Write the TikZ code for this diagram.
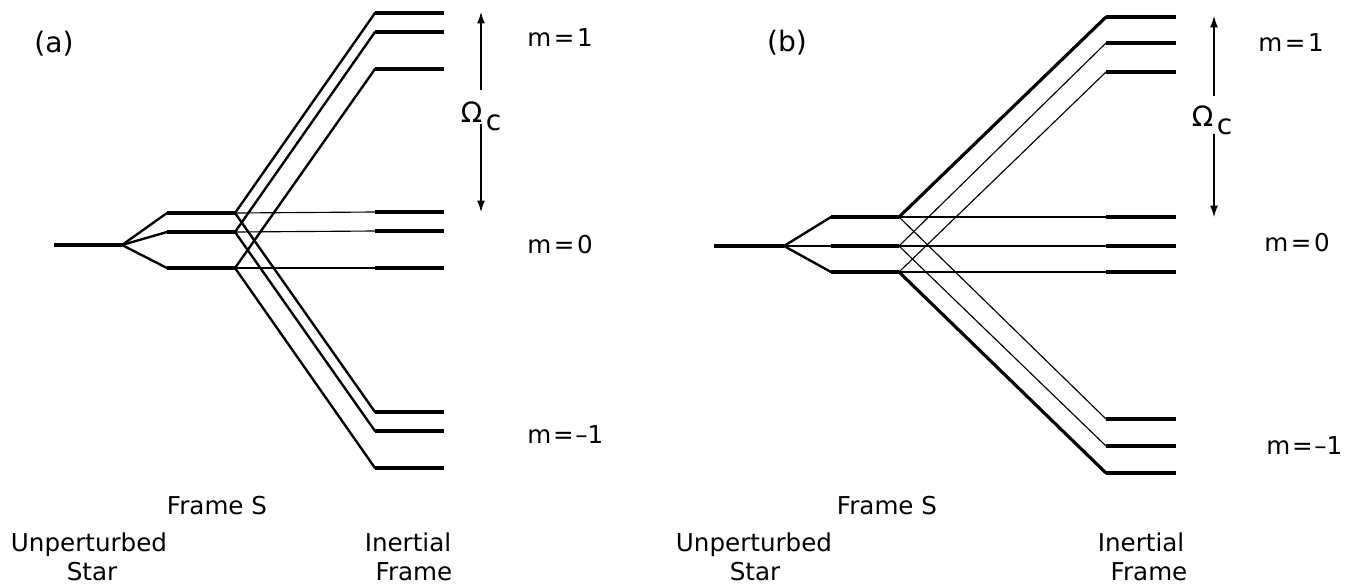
\documentclass[tikz,border=0pt]{standalone}
\usepackage{fontspec}
\setmainfont{DejaVu Sans}
\usetikzlibrary{arrows.meta}

\tikzset{
  lvl/.style={line width=2.3pt},
  diag/.style={line width=1.35pt, line cap=round},
  fat/.style={line width=1.8pt, line cap=round},
  mid/.style={line width=1.2pt},
  thin/.style={line width=0.65pt},
  lbl/.style={font=\fontsize{14}{16}\selectfont, inner sep=0pt},
  tag/.style={font=\fontsize{16}{18}\selectfont, inner sep=0pt},
  omg/.style={font=\fontsize{16}{18}\selectfont, inner sep=0pt, anchor=base},
  gap/.style={line width=0.65pt, -{Latex[length=6.5pt,width=4.5pt]}},
}

\begin{document}
\begin{tikzpicture}[x=0.02cm,y=-0.02cm]
\useasboundingbox (0,0) rectangle (1345,585);

% ---- panel (a)
\node[tag] (taga) at (54,44) {(a)};

\coordinate (ua1) at (54,245);
\coordinate (ua2) at (122,245);
\coordinate (fa1l) at (167,213);
\coordinate (fa1r) at (235,213);
\coordinate (fa2l) at (167,232);
\coordinate (fa2r) at (235,232);
\coordinate (fa3l) at (167,268);
\coordinate (fa3r) at (235,268);

\foreach \n/\y in {1/13,2/32,3/69,4/212,5/231,6/268,7/412,8/431,9/468}{
  \coordinate (ia\n) at (375,\y);
  \coordinate (ia\n e) at (444,\y);
}

% splitting
\draw[diag] (ua2) -- (fa1l);
\draw[diag] (ua2) -- (fa2l);
\draw[diag] (ua2) -- (fa3l);

% m = 1
\draw[diag] (fa1r) -- (ia1);
\draw[diag] (fa2r) -- (ia2);
\draw[diag] (fa3r) -- (ia3);
% m = 0
\draw[thin] (fa1r) -- (ia4);
\draw[thin] (fa2r) -- (ia5);
\draw[thin] (fa3r) -- (ia6);
% m = -1
\draw[diag] (fa1r) -- (ia7);
\draw[diag] (fa2r) -- (ia8);
\draw[diag] (fa3r) -- (ia9);

% levels
\draw[lvl] (ua1) -- (ua2);
\draw[lvl] (fa1l) -- (fa1r);
\draw[lvl] (fa2l) -- (fa2r);
\draw[lvl] (fa3l) -- (fa3r);
\foreach \n in {1,...,9}{
  \draw[lvl] (ia\n) -- (ia\n e);
}

% splitting width
\node[omg] (oma) at (481,122) {Ω\kern2pt\raisebox{-5pt}{c}};
\coordinate (oa1) at (481,90);
\coordinate (oat) at (481,12);
\coordinate (oa2) at (481,124);
\coordinate (oab) at (481,212);
\draw[gap] (oa1) -- (oat);
\draw[gap] (oa2) -- (oab);

\node[lbl, anchor=west] (ma1) at (527,38) {m\kern1.5pt=\kern1.5pt1};
\node[lbl, anchor=west] (ma0) at (527,245) {m\kern1.5pt=\kern1.5pt0};
\node[lbl, anchor=west] (mam) at (527,435) {m\kern1pt=\kern1pt–1};

\node[lbl, anchor=base] (fsa) at (217,514) {Frame S};
\node[lbl, anchor=base] (usa) at (89,551) {Unperturbed};
\node[lbl, anchor=base] (sta) at (92,580) {Star};
\node[lbl, anchor=base] (ina) at (408,551) {Inertial};
\node[lbl, anchor=base] (fra) at (414,580) {Frame};

% ---- panel (b)
\node[tag] (tagb) at (787,43) {(b)};

\coordinate (ub1) at (714,246);
\coordinate (ub2) at (784,246);
\coordinate (fb1l) at (831,217);
\coordinate (fb1r) at (899,217);
\coordinate (fb2l) at (831,246);
\coordinate (fb2r) at (899,246);
\coordinate (fb3l) at (831,272);
\coordinate (fb3r) at (899,272);

\foreach \n/\y in {1/17,2/43,3/72,4/217,5/246,6/272,7/419,8/446,9/473}{
  \coordinate (ib\n) at (1106,\y);
  \coordinate (ib\n e) at (1176,\y);
}

% splitting
\draw[diag] (ub2) -- (fb1l);
\draw[diag] (ub2) -- (fb2l);
\draw[diag] (ub2) -- (fb3l);

% m = 1
\draw[fat] (fb1r) -- (ib1);
\draw[thin] (fb2r) -- (ib2);
\draw[thin] (fb3r) -- (ib3);
% m = 0
\draw[thin] (fb1r) -- (ib4);
\draw[mid] (fb2r) -- (ib5);
\draw[thin] (fb3r) -- (ib6);
% m = -1
\draw[thin] (fb1r) -- (ib7);
\draw[thin] (fb2r) -- (ib8);
\draw[fat] (fb3r) -- (ib9);

% levels
\draw[lvl] (ub1) -- (ub2);
\draw[lvl] (fb1l) -- (fb1r);
\draw[lvl] (fb2l) -- (fb2r);
\draw[lvl] (fb3l) -- (fb3r);
\foreach \n in {1,...,9}{
  \draw[lvl] (ib\n) -- (ib\n e);
}

\node[omg] (omb) at (1212,126) {Ω\kern2pt\raisebox{-5pt}{c}};
\coordinate (ob1) at (1214,96);
\coordinate (obt) at (1214,16);
\coordinate (ob2) at (1214,134);
\coordinate (obb) at (1214,217);
\draw[gap] (ob1) -- (obt);
\draw[gap] (ob2) -- (obb);

\node[lbl, anchor=west] (mb1) at (1258,43) {m\kern1.5pt=\kern1.5pt1};
\node[lbl, anchor=west] (mb0) at (1264,243) {m\kern1.5pt=\kern1.5pt0};
\node[lbl, anchor=west] (mbm) at (1266,446) {m\kern1pt=\kern1pt–1};

\node[lbl, anchor=base] (fsb) at (887,514) {Frame S};
\node[lbl, anchor=base] (usb) at (754,551) {Unperturbed};
\node[lbl, anchor=base] (stb) at (755,580) {Star};
\node[lbl, anchor=base] (inb) at (1141,551) {Inertial};
\node[lbl, anchor=base] (frb) at (1149,580) {Frame};
\end{tikzpicture}
\end{document}
